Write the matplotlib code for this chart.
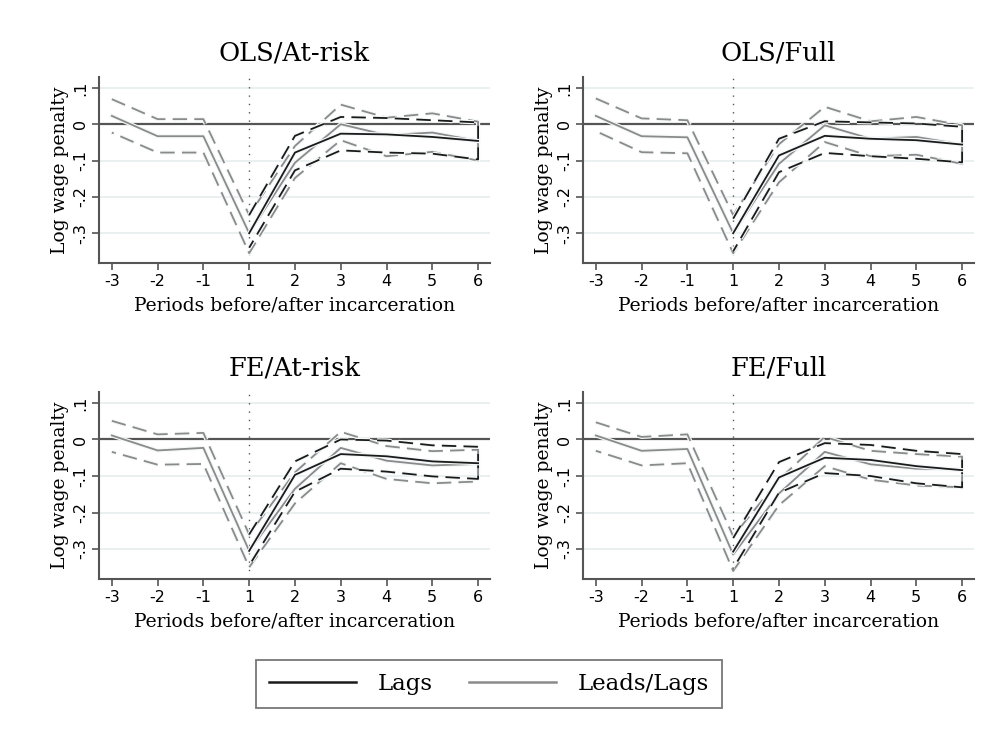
import numpy as np
import matplotlib.pyplot as plt
import matplotlib.patheffects as pe
from matplotlib.lines import Line2D

# x categories (periods before/after incarceration)
periods = [-3, -2, -1, 1, 2, 3, 4, 5, 6]
lag_periods = [1, 2, 3, 4, 5, 6]

titles = ["OLS/At-risk", "OLS/Full", "FE/At-risk", "FE/Full"]

# Leads/Lags estimates and CI (all periods)
ll_est = [
    [0.023, -0.033, -0.033, -0.300, -0.106, 0.000, -0.030, -0.023, -0.046],
    [0.023, -0.033, -0.036, -0.300, -0.109, -0.003, -0.040, -0.035, -0.056],
    [0.011, -0.030, -0.023, -0.305, -0.135, -0.023, -0.058, -0.071, -0.067],
    [0.011, -0.031, -0.026, -0.315, -0.148, -0.034, -0.068, -0.080, -0.082],
]
ll_hi = [
    [0.069, 0.014, 0.014, -0.250, -0.060, 0.054, 0.018, 0.030, 0.007],
    [0.071, 0.016, 0.011, -0.250, -0.055, 0.048, 0.008, 0.020, -0.003],
    [0.051, 0.014, 0.018, -0.260, -0.090, 0.021, -0.018, -0.032, -0.028],
    [0.047, 0.007, 0.014, -0.265, -0.110, 0.007, -0.031, -0.040, -0.047],
]
ll_lo = [
    [-0.023, -0.078, -0.078, -0.355, -0.148, -0.044, -0.088, -0.076, -0.100],
    [-0.019, -0.077, -0.080, -0.355, -0.160, -0.049, -0.088, -0.084, -0.109],
    [-0.034, -0.069, -0.067, -0.350, -0.175, -0.065, -0.108, -0.120, -0.115],
    [-0.031, -0.071, -0.065, -0.360, -0.180, -0.073, -0.110, -0.126, -0.131],
]

# Lags estimates and CI (periods 1..6)
lag_est = [
    [-0.300, -0.078, -0.026, -0.028, -0.035, -0.046],
    [-0.300, -0.086, -0.032, -0.040, -0.044, -0.056],
    [-0.305, -0.097, -0.040, -0.046, -0.060, -0.065],
    [-0.307, -0.104, -0.050, -0.056, -0.073, -0.084],
]
lag_hi = [
    [-0.250, -0.032, 0.020, 0.017, 0.011, 0.005],
    [-0.260, -0.040, 0.008, 0.005, 0.002, -0.007],
    [-0.260, -0.060, 0.000, -0.003, -0.016, -0.020],
    [-0.270, -0.062, -0.010, -0.015, -0.031, -0.040],
]
lag_lo = [
    [-0.340, -0.127, -0.072, -0.078, -0.081, -0.097],
    [-0.350, -0.132, -0.079, -0.088, -0.095, -0.105],
    [-0.345, -0.143, -0.080, -0.088, -0.101, -0.108],
    [-0.353, -0.146, -0.092, -0.100, -0.120, -0.131],
]

yticks = [0.1, 0, -0.1, -0.2, -0.3]
yticklabels = [".1", "0", "-.1", "-.2", "-.3"]

BLACK = "#1a1a1a"
GRAY = "#8a8a8a"
halo = [pe.withStroke(linewidth=3.0, foreground="#f4f8f8")]

fig = plt.figure(figsize=(10.03, 7.40), dpi=100)
fig.patch.set_facecolor("white")

boxes = [
    [99 / 1003, 1 - 263 / 740, 391 / 1003, 186 / 740],
    [583 / 1003, 1 - 263 / 740, 391 / 1003, 186 / 740],
    [99 / 1003, 1 - 579 / 740, 391 / 1003, 187 / 740],
    [583 / 1003, 1 - 579 / 740, 391 / 1003, 187 / 740],
]

xpos = np.arange(len(periods))
lag_pos = np.array([periods.index(p) for p in lag_periods])

for k in range(4):
    ax = fig.add_axes(boxes[k])
    for yv in yticks:
        ax.axhline(yv, color="#e6eeee", lw=1.2, zorder=0)
    ax.axhline(0, color="#555555", lw=1.6, zorder=1)
    ax.axvline(periods.index(1), color="#555555", lw=1.0, ls=(0, (1, 5)), zorder=1)

    # Leads/Lags: CI drawn as closed outline, then estimate
    cx = np.concatenate([xpos, xpos[::-1]])
    cy = np.concatenate([ll_hi[k], ll_lo[k][::-1]])
    ax.plot(cx, cy, color=GRAY, lw=1.3, ls=(0, (8, 4)), zorder=2, path_effects=halo)
    ax.plot(xpos, ll_est[k], color=GRAY, lw=1.3, zorder=3, path_effects=halo)

    # Lags
    cx = np.concatenate([lag_pos, lag_pos[::-1]])
    cy = np.concatenate([lag_hi[k], lag_lo[k][::-1]])
    ax.plot(cx, cy, color=BLACK, lw=1.3, ls=(0, (8, 4)), zorder=4, path_effects=halo)
    ax.plot(lag_pos, lag_est[k], color=BLACK, lw=1.3, zorder=5, path_effects=halo)

    ax.set_xlim(-0.28, 8.26)
    ax.set_ylim(-0.382, 0.13)
    ax.set_xticks(xpos)
    ax.set_xticklabels([str(p) for p in periods], fontsize=11.5, family="DejaVu Sans")
    ax.set_yticks(yticks)
    ax.set_yticklabels(yticklabels, fontsize=11.5, family="DejaVu Sans",
                       rotation=90, va="center")
    ax.tick_params(direction="out", length=5, width=1.2, color="#555555", pad=3)
    for s in ["top", "right"]:
        ax.spines[s].set_visible(False)
    for s in ["left", "bottom"]:
        ax.spines[s].set_color("#555555")
        ax.spines[s].set_linewidth(1.5)
    ax.set_facecolor("white")
    ax.set_title(titles[k], family="DejaVu Serif", fontsize=18.5, pad=12)
    ax.set_xlabel("Periods before/after incarceration", family="DejaVu Serif",
                  fontsize=13.5, labelpad=5)
    ax.set_ylabel("Log wage penalty", family="DejaVu Serif", fontsize=13.5, labelpad=3)

handles = [Line2D([], [], color=BLACK, lw=1.8), Line2D([], [], color=GRAY, lw=1.8)]
leg = fig.legend(handles, ["Lags", "Leads/Lags"], loc="center", ncol=2,
                 bbox_to_anchor=(489 / 1003, 1 - 684 / 740),
                 prop={"family": "DejaVu Serif", "size": 16.5},
                 frameon=True, fancybox=False, handlelength=3.8, columnspacing=1.6,
                 handletextpad=0.95, borderpad=0.55, borderaxespad=0)
leg.get_frame().set_edgecolor("#555555")
leg.get_frame().set_linewidth(1.3)

fig.savefig("out.png", dpi=100)
